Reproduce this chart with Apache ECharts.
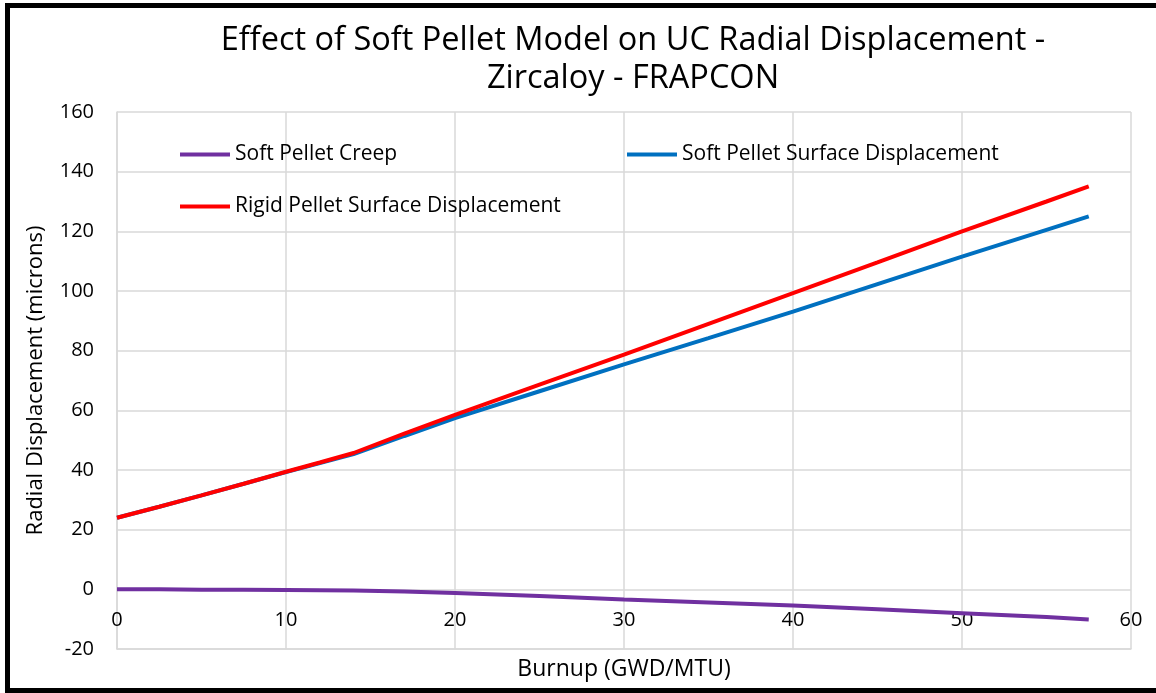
<!DOCTYPE html>
<html>
<head>
<meta charset="utf-8">
<script src="https://cdn.jsdelivr.net/npm/echarts@6/dist/echarts.min.js"></script>
<style>
html,body{margin:0;padding:0;background:#fff;}
#chart{width:1156px;height:693px;}
</style>
</head>
<body>
<div id="chart"></div>
<script>
const titleLines = ['Effect of Soft Pellet Model on UC Radial Displacement -', 'Zircaloy - FRAPCON'];
const xAxisName = 'Burnup (GWD/MTU)';
const yAxisName = 'Radial Displacement (microns)';
const seriesNames = ['Soft Pellet Creep', 'Soft Pellet Surface Displacement', 'Rigid Pellet Surface Displacement'];
const burnup = [0, 2.5, 5, 7.5, 10, 12, 14, 17, 20, 25, 30, 35, 40, 45, 50, 55, 57.5];
const softCreep = [0, 0, -0.1, -0.1, -0.2, -0.3, -0.4, -0.7, -1.2, -2.2, -3.4, -4.4, -5.4, -6.7, -8.0, -9.3, -10.1];
const softSurface = [24, 27.7, 31.5, 35.4, 39.3, 42.3, 45.3, 51.4, 57.4, 66.4, 75.4, 84.2, 93.1, 102.3, 111.5, 120.5, 125];
const rigidSurface = [24, 27.7, 31.5, 35.4, 39.4, 42.5, 45.7, 52.2, 58.5, 68.6, 78.7, 89, 99.3, 109.6, 120, 130, 135.1];

const FONT = 'Open Sans';
const pairs = (ys) => burnup.map((x, i) => [x, ys[i]]);
const chart = echarts.init(document.getElementById('chart'));
const legendBase = (name, left, top) => ({
  data: [name], left: left, top: top, icon: 'rect', itemWidth: 50, itemHeight: 4, padding: 0,
  textStyle: {fontFamily: FONT, fontSize: 21, color: '#000'}, selectedMode: false
});
const lineSeries = (name, ys, color) => ({
  name: name, type: 'line', data: pairs(ys), symbol: 'none', showSymbol: false,
  lineStyle: {color: color, width: 4}, itemStyle: {color: color}
});
chart.setOption({
  animation: false,
  backgroundColor: '#fff',
  title: {
    text: titleLines.join('\n'), left: 628, top: 17, textAlign: 'center',
    textStyle: {fontFamily: FONT, fontSize: 32.5, fontWeight: 'normal', color: '#000', lineHeight: 38}
  },
  legend: [
    legendBase(seriesNames[0], 180, 144),
    legendBase(seriesNames[1], 627, 144),
    legendBase(seriesNames[2], 180, 196)
  ],
  grid: {left: 117, right: 25, top: 112, bottom: 44, containLabel: false, outerBoundsMode: 'none'},
  xAxis: {
    type: 'value', min: 0, max: 60, interval: 10,
    name: xAxisName, nameLocation: 'middle', nameGap: 9,
    nameTextStyle: {fontFamily: FONT, fontSize: 23, color: '#000'},
    axisLine: {onZero: false, lineStyle: {color: '#d9d9d9', width: 1.5}},
    axisTick: {show: false},
    axisLabel: {fontFamily: FONT, fontSize: 20, color: '#000', margin: -39},
    splitLine: {show: true, lineStyle: {color: '#d9d9d9', width: 1.5}}
  },
  yAxis: {
    type: 'value', min: -20, max: 160, interval: 20,
    name: yAxisName, nameLocation: 'middle', nameGap: 70,
    nameTextStyle: {fontFamily: FONT, fontSize: 22, color: '#000'},
    axisLine: {show: true, lineStyle: {color: '#d9d9d9', width: 1.5}},
    axisTick: {show: false},
    axisLabel: {fontFamily: FONT, fontSize: 20, color: '#000', margin: 23},
    splitLine: {show: true, lineStyle: {color: '#d9d9d9', width: 1.5}}
  },
  graphic: [{
    type: 'rect', silent: true, z: 100,
    shape: {x: 7.5, y: 5.5, width: 1160, height: 685},
    style: {fill: 'none', stroke: '#000', lineWidth: 5}
  }],
  series: [
    lineSeries(seriesNames[0], softCreep, '#7030A0'),
    lineSeries(seriesNames[1], softSurface, '#0070C0'),
    lineSeries(seriesNames[2], rigidSurface, '#FF0000')
  ]
});
</script>
</body>
</html>
